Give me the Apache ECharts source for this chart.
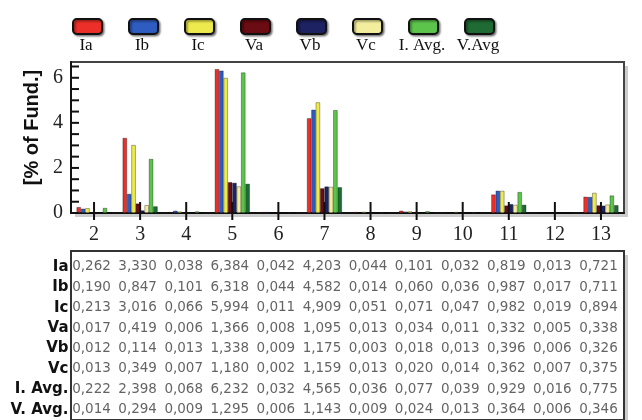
<!DOCTYPE html>
<html>
<head>
<meta charset="utf-8">
<style>
  html, body { margin: 0; padding: 0; background: #fff; }
  #chart { width: 642px; height: 420px; }
</style>
<script src="https://cdn.jsdelivr.net/npm/echarts@6/dist/echarts.min.js"></script>
</head>
<body>
<div id="chart"></div>
<script>
// Harmonic orders on the x axis
const harmonics = ['2', '3', '4', '5', '6', '7', '8', '9', '10', '11', '12', '13'];

// Harmonic content, % of fundamental
const Ia   = [0.262, 3.330, 0.038, 6.384, 0.042, 4.203, 0.044, 0.101, 0.032, 0.819, 0.013, 0.721];
const Ib   = [0.190, 0.847, 0.101, 6.318, 0.044, 4.582, 0.014, 0.060, 0.036, 0.987, 0.017, 0.711];
const Ic   = [0.213, 3.016, 0.066, 5.994, 0.011, 4.909, 0.051, 0.071, 0.047, 0.982, 0.019, 0.894];
const Va   = [0.017, 0.419, 0.006, 1.366, 0.008, 1.095, 0.013, 0.034, 0.011, 0.332, 0.005, 0.338];
const Vb   = [0.012, 0.114, 0.013, 1.338, 0.009, 1.175, 0.003, 0.018, 0.013, 0.396, 0.006, 0.326];
const Vc   = [0.013, 0.349, 0.007, 1.180, 0.002, 1.159, 0.013, 0.020, 0.014, 0.362, 0.007, 0.375];
const IAvg = [0.222, 2.398, 0.068, 6.232, 0.032, 4.565, 0.036, 0.077, 0.039, 0.929, 0.016, 0.775];
const VAvg = [0.014, 0.294, 0.009, 1.295, 0.006, 1.143, 0.009, 0.024, 0.013, 0.364, 0.006, 0.346];

// Series names (legend) and table row labels
const seriesNames = ['Ia', 'Ib', 'Ic', 'Va', 'Vb', 'Vc', 'I. Avg.', 'V.Avg'];
const rowLabels   = ['Ia', 'Ib', 'Ic', 'Va', 'Vb', 'Vc', 'I. Avg.', 'V. Avg.'];
const seriesData  = [Ia, Ib, Ic, Va, Vb, Vc, IAvg, VAvg];
const seriesColors = ['#ec2f28', '#2f5cc0', '#ecea4c', '#6b0b12', '#1d2262', '#f2ee9e', '#5dc44b', '#1f6b33'];

// Y axis tick setup (major every 2, minor every 0.5)
const yMin = 0, yMax = 6.7, yStep = 2, yMinorSplit = 4;

const serif = '"Liberation Serif", "Times New Roman", serif';
const sans = '"DejaVu Sans", sans-serif';
const ink = '#111';

// Plot frame geometry
const plotLeft = 71, plotTop = 62, plotWidth = 553, plotHeight = 151;
const tableTop = 251;
const dropShadow = 'rgba(0,0,0,0.2)';

const chart = echarts.init(document.getElementById('chart'), null, { renderer: 'canvas' });

const barSeries = seriesNames.map((name, i) => ({
  name: name,
  type: 'bar',
  xAxisIndex: 2,
  yAxisIndex: 2,
  data: seriesData[i],
  barGap: '0%',
  barCategoryGap: '24%',
  itemStyle: {
    color: seriesColors[i],
    borderColor: 'rgba(0,0,0,0.55)',
    borderWidth: 0.6
  },
  emphasis: { disabled: true }
}));

// Tick marks: crosses on the harmonic axis, short marks on the value axis
const xTickMarks = harmonics.map(h => [h, 0]);
const yTickMarks = [];
for (let k = 0; yMin + k * yStep / yMinorSplit <= yMax; k++) {
  yTickMarks.push([0, yMin + k * yStep / yMinorSplit]);
}

// Table cells: one text label per (harmonic, row)
const tableCells = [];
seriesData.forEach((arr, r) => {
  arr.forEach((v, c) => tableCells.push([c, r, v]));
});

const hiddenCat = g => ({ type: 'category', gridIndex: g, data: harmonics, show: false });
const hiddenVal = g => ({ type: 'value', gridIndex: g, show: false });

const option = {
  backgroundColor: '#fff',
  animation: false,
  legend: {
    data: seriesNames,
    left: 72,
    top: 18,
    padding: 0,
    itemWidth: 29,
    itemHeight: 15,
    itemGap: 25,
    icon: 'roundRect',
    formatter: () => '',
    selectedMode: false,
    itemStyle: {
      borderColor: ink,
      borderWidth: 2,
      shadowColor: 'rgba(0,0,0,0.45)',
      shadowBlur: 2,
      shadowOffsetX: 1.5,
      shadowOffsetY: 1.5
    }
  },
  grid: [
    { // drop shadow behind the plot frame
      left: plotLeft + 4, top: plotTop + 4, width: plotWidth, height: plotHeight,
      show: true, backgroundColor: dropShadow, borderWidth: 0
    },
    { // drop shadow behind the table frame
      left: plotLeft + 4, top: tableTop + 4, width: plotWidth, bottom: -30,
      show: true, backgroundColor: dropShadow, borderWidth: 0
    },
    { // bar chart
      left: plotLeft, top: plotTop, width: plotWidth, height: plotHeight,
      show: true, backgroundColor: '#fff', borderColor: '#444', borderWidth: 2
    },
    { // table frame
      left: plotLeft, top: tableTop, width: plotWidth, bottom: -30,
      show: true, backgroundColor: '#fff', borderColor: '#333', borderWidth: 2
    },
    { // legend captions
      left: 58, width: 448, top: 30, height: 1
    },
    { // table contents
      left: 68.5, width: 553, top: 256.7, height: 164.8
    },
    { // overlay for the value-axis tick marks
      left: plotLeft, top: plotTop, width: plotWidth, height: plotHeight
    }
  ],
  xAxis: [
    hiddenCat(0),
    hiddenCat(1),
    {
      type: 'category', gridIndex: 2, data: harmonics,
      axisLine: { show: true, lineStyle: { color: ink, width: 2 } },
      axisTick: { show: false },
      axisLabel: { fontFamily: serif, fontSize: 20, color: '#222', margin: 12 }
    },
    hiddenCat(3),
    {
      type: 'category', gridIndex: 4, data: seriesNames,
      axisLine: { show: false }, axisTick: { show: false },
      axisLabel: { interval: 0, fontFamily: serif, fontSize: 17, color: ink, margin: 6 }
    },
    hiddenCat(5),
    { type: 'value', gridIndex: 6, min: 0, max: 1, show: false }
  ],
  yAxis: [
    hiddenVal(0),
    hiddenVal(1),
    {
      type: 'value', gridIndex: 2, min: yMin, max: yMax, interval: yStep,
      name: '[% of Fund.]', nameLocation: 'middle', nameRotate: 90, nameGap: 19,
      nameTextStyle: { fontFamily: '"Liberation Sans", Arial, sans-serif', fontWeight: 'bold', fontSize: 20, color: ink, padding: [0, 0, 0, 20] },
      axisLine: { show: true, lineStyle: { color: ink, width: 2 } },
      axisTick: { show: false },
      minorTick: { show: false },
      splitLine: { show: false },
      axisLabel: { fontFamily: serif, fontSize: 20, color: '#222', margin: 8, showMaxLabel: false }
    },
    hiddenVal(3),
    hiddenVal(4),
    {
      type: 'category', gridIndex: 5, data: rowLabels, inverse: true,
      axisLine: { show: false }, axisTick: { show: false },
      axisLabel: { fontFamily: sans, fontWeight: 'bold', fontSize: 15, color: ink, margin: 0 }
    },
    { type: 'value', gridIndex: 6, min: yMin, max: yMax, show: false }
  ],
  series: barSeries.concat([
    {
      name: 'x ticks',
      type: 'scatter',
      xAxisIndex: 2,
      yAxisIndex: 2,
      data: xTickMarks,
      symbol: 'rect',
      symbolSize: [2, 18],
      symbolOffset: [0, -2],
      itemStyle: { color: ink, opacity: 1 },
      large: false,
      progressive: 0,
      clip: false,
      silent: true,
      zlevel: 1,
      z: 5
    },
    {
      name: 'y ticks',
      type: 'scatter',
      xAxisIndex: 6,
      yAxisIndex: 6,
      data: yTickMarks,
      symbol: 'rect',
      symbolSize: [8, 2],
      symbolOffset: [4, 0],
      itemStyle: { color: ink, opacity: 1 },
      large: false,
      progressive: 0,
      clip: false,
      silent: true,
      zlevel: 1,
      z: 5
    },
    {
      name: 'table',
      type: 'scatter',
      xAxisIndex: 5,
      yAxisIndex: 5,
      data: tableCells,
      symbolSize: 0,
      silent: true,
      label: {
        show: true,
        position: 'inside',
        fontFamily: sans,
        fontSize: 13.5,
        color: '#3c3c3c',
        formatter: p => p.value[2].toFixed(3).replace('.', ',')
      }
    }
  ])
};

chart.setOption(option);
</script>
</body>
</html>
